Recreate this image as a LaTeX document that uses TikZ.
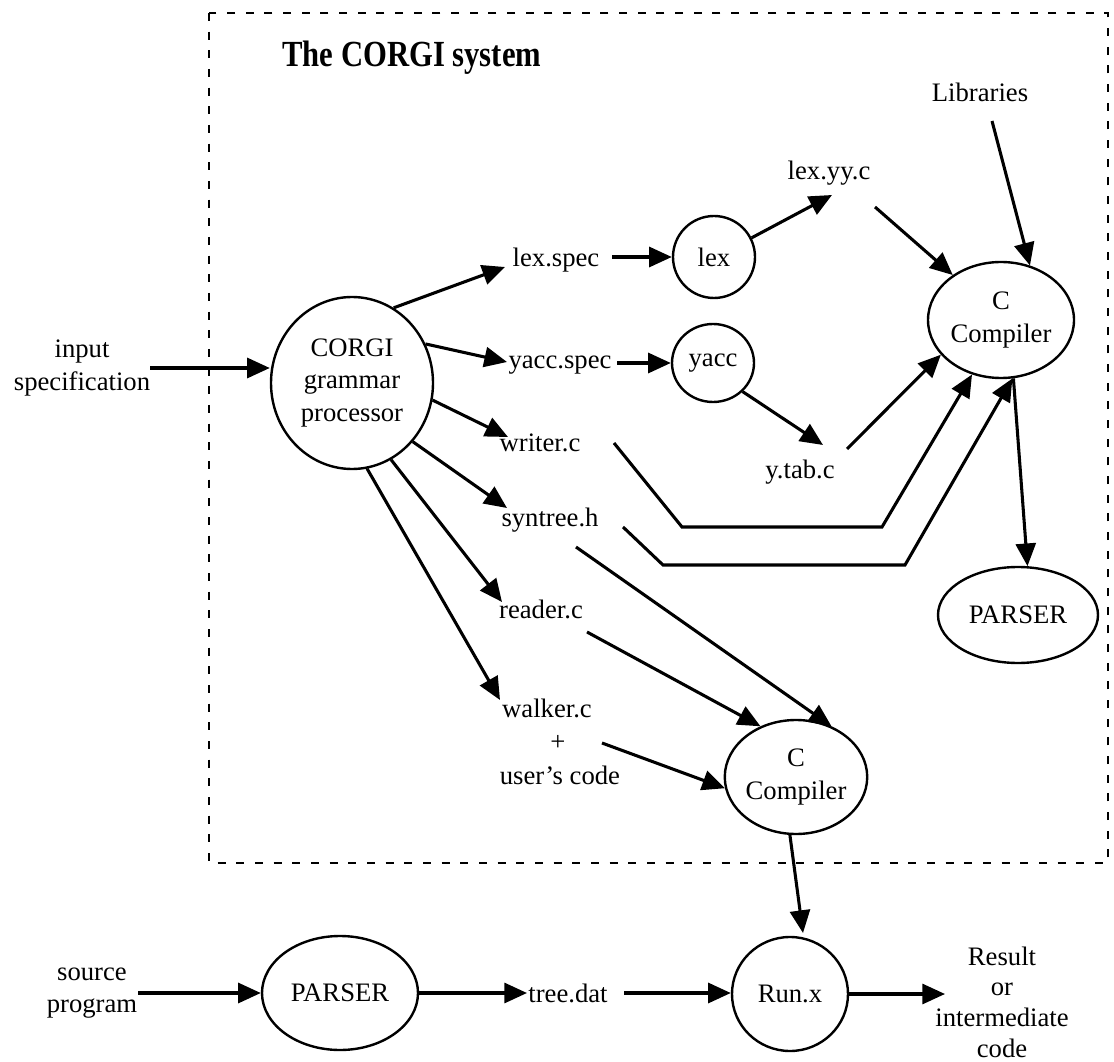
\documentclass[tikz,border=0pt]{standalone}
\usepackage{fontspec}
\usepackage{graphicx}
\setmainfont{Liberation Serif}
\usetikzlibrary{arrows.meta,shapes.geometric,calc}

\begin{document}
\begin{tikzpicture}[x=0.75pt,y=-0.75pt,
  every node/.style={font=\fontsize{20}{24.5}\selectfont},
  lbl/.style={inner sep=0pt, align=center},
  proc/.style={ellipse, draw, line width=1.8pt, inner sep=0pt, align=center},
  arr/.style={line width=2.3pt, -{Triangle[length=17pt,width=15pt]}},
  frame/.style={line width=2.2pt, dash pattern=on 6pt off 8pt}]

% canvas
\fill[white] (0,0) rectangle (1114,1062);
\useasboundingbox (0,0) rectangle (1114,1062);

% system boundary
\draw[frame] (209,13) rectangle (1108,863);
\node[anchor=base west, inner sep=0pt] (title) at (282,67)
  {\scalebox{1}[1.2]{\fontsize{23}{28}\selectfont\bfseries The CORGI system}};

% processes
\node[proc, minimum width=121.5pt, minimum height=129pt] (corgi) at (352,383) {CORGI\\grammar\\processor};
\node[proc, minimum width=61.5pt, minimum height=61.5pt] (lex) at (714,257) {lex};
\node[proc, minimum width=61.5pt, minimum height=58.5pt] (yacc) at (713,363) {yacc};
\node[proc, minimum width=109.5pt, minimum height=87pt] (cc1) at (1001,320) {C\\Compiler};
\node[proc, minimum width=120pt, minimum height=72pt] (parser1) at (1018,615) {PARSER};
\node[proc, minimum width=106.5pt, minimum height=85.5pt] (cc2) at (796,777) {C\\Compiler};
\node[proc, minimum width=117pt, minimum height=85.5pt] (parser2) at (340,993) {PARSER};
\node[proc, minimum width=87pt, minimum height=85.5pt] (runx) at (790,994) {Run.x};

% files and labels
\node[lbl] (inp) at (82,368) {input\\specification};
\node[lbl] (libs) at (980,92) {Libraries};
\node[lbl] (lexspec) at (556,260) {lex.spec};
\node[lbl] (yaccspec) at (560,365) {yacc.spec};
\node[lbl] (writer) at (540,443) {writer.c};
\node[lbl] (syntree) at (550,520) {syntree.h};
\node[lbl] (reader) at (541,609) {reader.c};
\node[lbl] (walker) at (547,708) {walker.c};
\node[lbl] (plus) at (558,743) {+};
\node[lbl] (usercode) at (560,775) {user's code};
\node[lbl] (lexyy) at (829,173) {lex.yy.c};
\node[lbl] (ytab) at (800,472) {y.tab.c};
\node[lbl] (src) at (92,993) {source\\program};
\node[lbl] (treedat) at (568,993) {tree.dat};
\node[lbl, font=\fontsize{20}{23}\selectfont] (result) at (1002,1002) {Result\\or\\intermediate\\code};

% free ends next to the text labels
\coordinate (inpE) at ($(inp)+(68,0)$);
\coordinate (treeE) at ($(treedat)+(56,0)$);

% bend points of the two long routes
\coordinate (wA) at (682,527);
\coordinate (wB) at (882,527);
\coordinate (sA) at (663,565);
\coordinate (sB) at (905,565);

% input into the grammar processor
\draw[arr] (inpE) -- (inpE -| corgi.west);

% generated files
\draw[arr] (corgi.61.6) -- ($(lexspec)+(-51,7)$);
\draw[arr] (corgi.28) -- ($(yaccspec)+(-53,-3)$);
\draw[arr] (corgi.-12) -- ($(writer)+(-32,-6)$);
\draw[arr] (corgi.-44) -- ($(syntree)+(-43,-12)$);
\draw[arr] (corgi.-63.4) -- ($(reader)+(-39,-7)$);
\draw[arr] (corgi.-80.2) -- ($(walker)+(-47,-8)$);

% lex and yacc
\draw[arr] ($(lexspec)+(56,-3)$) -- (lex.west);
\draw[arr] ($(yaccspec)+(57,-2)$) -- (yacc.west);
\draw[arr] (lex.27) -- ($(lexyy)+(3,22)$);
\draw[arr] (yacc.-44) -- ($(ytab)+(23,-27)$);

% first C compiler
\draw[arr] ($(lexyy)+(46,34)$) -- (cc1.137);
\draw[arr] ($(libs)+(12,29)$) -- (cc1.62);
\draw[arr] ($(ytab)+(47,-23)$) -- (cc1.210);
\draw[arr] ($(writer)+(74,0)$) -- (wA) -- (wB) -- (cc1.242);
\draw[arr] ($(syntree)+(73,7)$) -- (sA) -- (sB) -- (cc1.281);
\draw[arr] (cc1.282) -- (parser1.79);

% second C compiler
\draw[arr] ($(syntree)+(26,27)$) -- (cc2.55);
\draw[arr] ($(reader)+(46,23)$) -- (cc2.125);
\draw[arr] ($(usercode)+(42,-32)$) -- (cc2.189);
\draw[arr] (cc2.264) -- ($(runx)+(13,-61)$);

% run-time pipeline
\draw[arr] ($(src)+(46,0)$) -- (parser2.west);
\draw[arr] (parser2.east) -- ($(treedat)+(-41,0)$);
\draw[arr] (treeE) -- (treeE -| runx.west);
\draw[arr] (runx.east) -- ($(result)+(-57,-8)$);
\end{tikzpicture}
\end{document}
